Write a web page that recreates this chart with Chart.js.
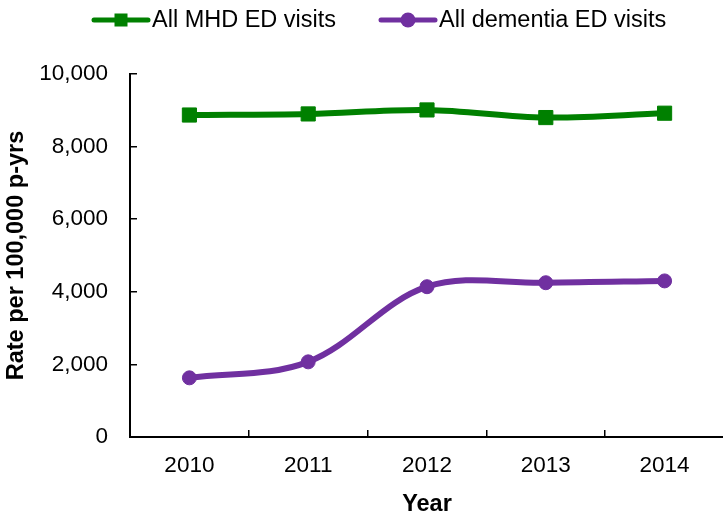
<!DOCTYPE html>
<html>
<head>
<meta charset="utf-8">
<script src="https://cdn.jsdelivr.net/npm/chart.js@4.4.1/dist/chart.umd.min.js"></script>
<style>
  html, body { margin: 0; padding: 0; background: #fff; overflow: hidden; }
  #wrap { width: 735px; height: 516px; position: relative; }
</style>
</head>
<body>
<div id="wrap"><canvas id="myChart"></canvas></div>
<script>
// Data
var years = ['2010', '2011', '2012', '2013', '2014'];
var mhdVisits = [8870, 8900, 9010, 8800, 8920];
var dementiaVisits = [1630, 2070, 4140, 4250, 4300];
var yTicks = [0, 2000, 4000, 6000, 8000, 10000];

var FONT = "'Liberation Sans', Arial, sans-serif";
var GREEN = '#008000';
var PURPLE = '#7030A0';

// Legend drawn by hand: line with marker, then text
var lineLegend = {
    id: 'lineLegend',
    afterDraw: function(chart, args, opts){
        var ctx = chart.ctx;
        ctx.save();
        chart.data.datasets.forEach(function(ds, i){
            var x0 = opts.starts[i], y = opts.y, len = 54;
            ctx.strokeStyle = ds.borderColor;
            ctx.lineWidth = 5;
            ctx.lineCap = 'round';
            ctx.beginPath();
            ctx.moveTo(x0, y);
            ctx.lineTo(x0 + len, y);
            ctx.stroke();
            ctx.fillStyle = ds.borderColor;
            var cx = x0 + len / 2;
            if (ds.pointStyle === 'rect') {
                ctx.fillRect(cx - 6.5, y - 6.5, 13, 13);
            } else {
                ctx.beginPath();
                ctx.arc(cx, y, 7.5, 0, Math.PI * 2);
                ctx.fill();
            }
            ctx.fillStyle = '#000';
            ctx.font = '23.5px ' + FONT;
            ctx.textBaseline = 'middle';
            ctx.textAlign = 'left';
            ctx.fillText(ds.label, x0 + len + 4, y + 1);
        });
        ctx.restore();
    }
};

var chart = new Chart(document.getElementById('myChart'), {
    type: 'line',
    data: {
        labels: years,
        datasets: [{
            label: 'All MHD ED visits',
            data: mhdVisits,
            borderColor: GREEN,
            backgroundColor: GREEN,
            borderWidth: 6,
            pointStyle: 'rect',
            pointRadius: 10,
            pointBorderWidth: 1,
            tension: 0.35,
            fill: false
        }, {
            label: 'All dementia ED visits',
            data: dementiaVisits,
            borderColor: PURPLE,
            backgroundColor: PURPLE,
            borderWidth: 6,
            pointStyle: 'circle',
            pointRadius: 7,
            pointBorderWidth: 1,
            tension: 0.35,
            fill: false
        }]
    },
    options: {
        responsive: true,
        maintainAspectRatio: false,
        animation: false,
        layout: { padding: { top: 74, right: 10, bottom: 0, left: 0 } },
        plugins: {
            legend: { display: false },
            tooltip: { enabled: false },
            lineLegend: { starts: [94, 381], y: 20 }
        },
        scales: {
            x: {
                offset: true,
                grid: {
                    offset: true,
                    drawOnChartArea: false,
                    tickLength: -7,
                    color: '#000',
                    lineWidth: 1.5
                },
                border: { color: '#000', width: 2 },
                ticks: {
                    color: '#000',
                    padding: 25,
                    font: { family: FONT, size: 22.5, lineHeight: 1 }
                },
                title: {
                    display: true,
                    text: 'Year',
                    color: '#000',
                    padding: { top: 0, bottom: 0 },
                    font: { family: FONT, size: 23.5, weight: 'bold', lineHeight: 1 }
                },
                afterFit: function(scale){ scale.height = 79; }
            },
            y: {
                min: 0,
                max: 10000,
                afterBuildTicks: function(scale){
                    scale.ticks = yTicks.map(function(v){ return { value: v }; });
                },
                grid: {
                    drawOnChartArea: false,
                    tickLength: -7,
                    color: '#000',
                    lineWidth: 1.5
                },
                border: { color: '#000', width: 2 },
                ticks: {
                    color: '#000',
                    padding: 29,
                    font: { family: FONT, size: 22.5 },
                    callback: function(v){ return v.toLocaleString('en-US'); }
                },
                title: {
                    display: true,
                    text: 'Rate per 100,000 p-yrs',
                    color: '#000',
                    padding: { top: 5, bottom: 0 },
                    font: { family: FONT, size: 23.5, weight: 'bold', lineHeight: 1 }
                },
                afterFit: function(scale){ scale.width = 130; }
            }
        }
    },
    plugins: [lineLegend]
});
</script>
</body>
</html>
